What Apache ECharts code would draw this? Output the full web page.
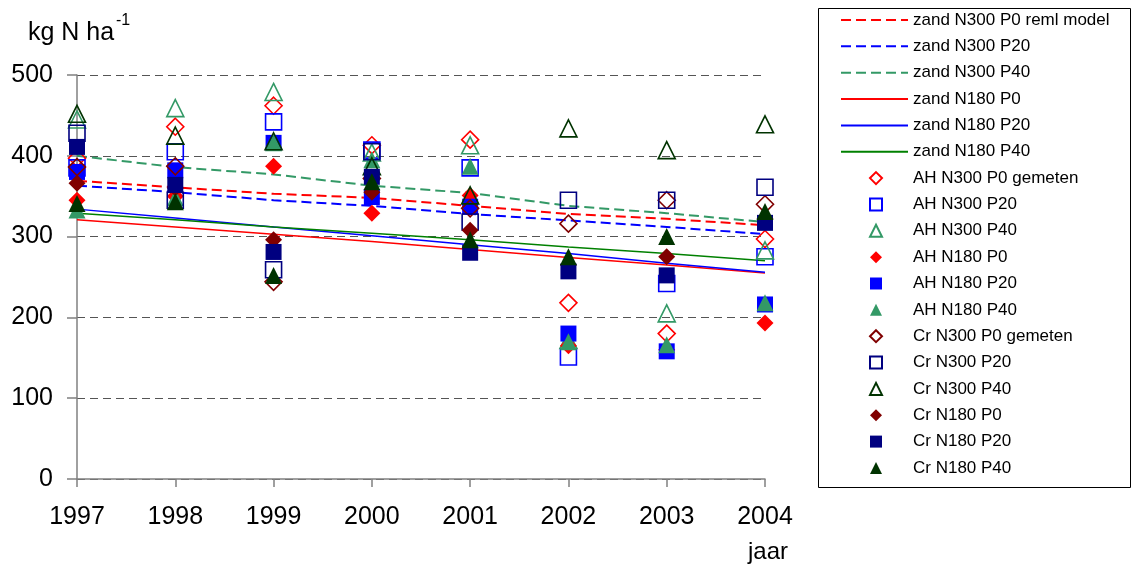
<!DOCTYPE html>
<html>
<head>
<meta charset="utf-8">
<script src="https://cdn.jsdelivr.net/npm/echarts@6/dist/echarts.min.js"></script>
<style>
  html, body { margin: 0; padding: 0; background: #fff; }
  #chart { width: 1132px; height: 579px; }
</style>
</head>
<body>
<div id="chart"></div>
<script>
// jaren
const years = ['1997', '1998', '1999', '2000', '2001', '2002', '2003', '2004']

// reml model lijnen
const zandN300P0 = [369, 361, 353, 348, 338, 328, 322, 314]
const zandN300P20 = [363, 355, 345, 338, 328, 320, 312, 303]
const zandN300P40 = [400, 386, 377, 363, 354, 338, 329, 318]
const zandN180P0 = [321, 312, 303, 294, 284, 274, 265, 255]
const zandN180P20 = [334, 323, 312, 301, 290, 279, 267, 256]
const zandN180P40 = [329, 321, 312, 304, 296, 287, 279, 270]

// gemeten AH
const ahN300P0 = [397, 436, 462, 413, 420, 218, 180, 297]
const ahN300P20 = [385, 405, 442, 407, 385, 151, 242, 275]
const ahN300P40 = [445, 459, 479, 404, 413, 172, 205, 283]
const ahN180P0 = [345, 350, 387, 329, 351, 165, 160, 193]
const ahN180P20 = [380, 382, 416, 349, 337, 180, 158, 216]
const ahN180P40 = [333, 348, 416, 395, 387, 170, 166, 218]

// gemeten Cr
const crN300P0 = [386, 387, 244, 372, 335, 316, 345, 340]
const crN300P20 = [428, 345, 259, 405, 318, 345, 345, 361]
const crN300P40 = [452, 425, 418, 387, 351, 434, 407, 439]
const crN180P0 = [366, 360, 296, 355, 308, 265, 275, 322]
const crN180P20 = [411, 364, 281, 374, 280, 257, 252, 317]
const crN180P40 = [341, 343, 252, 368, 296, 275, 300, 331]

const yTicks = [0, 100, 200, 300, 400, 500]

const FONT = '"Liberation Sans", Arial, sans-serif'
const ROW = 26.35 // afstand tussen legenda regels

function lineSerie (name, data, color, dashed) {
  return {
    name: name, type: 'line', data: data, symbol: 'none', z: 2,
    lineStyle: { color: color, width: dashed ? 2 : 1.5, type: dashed ? [10, 5] : 'solid' },
    itemStyle: { color: color }
  }
}

function markSerie (name, data, shape, color, open) {
  let size = shape === 'rect' ? 16 : 17
  return {
    name: name, type: 'scatter', data: data, symbol: shape, symbolSize: size, z: 3,
    itemStyle: open
      ? { color: 'rgba(255,255,255,0)', borderColor: color, borderWidth: 1.6, opacity: 1 }
      : { color: color, borderWidth: 0, opacity: 1 }
  }
}

const series = [
  lineSerie('zand N300 P0 reml model', zandN300P0, '#ff0000', true),
  lineSerie('zand N300 P20', zandN300P20, '#0000ff', true),
  lineSerie('zand N300 P40', zandN300P40, '#339966', true),
  lineSerie('zand N180 P0', zandN180P0, '#ff0000', false),
  lineSerie('zand N180 P20', zandN180P20, '#0000ff', false),
  lineSerie('zand N180 P40', zandN180P40, '#008000', false),
  markSerie('AH N300 P0 gemeten', ahN300P0, 'diamond', '#ff0000', true),
  markSerie('AH N300 P20', ahN300P20, 'rect', '#0000ff', true),
  markSerie('AH N300 P40', ahN300P40, 'triangle', '#339966', true),
  markSerie('AH N180 P0', ahN180P0, 'diamond', '#ff0000', false),
  markSerie('AH N180 P20', ahN180P20, 'rect', '#0000ff', false),
  markSerie('AH N180 P40', ahN180P40, 'triangle', '#339966', false),
  markSerie('Cr N300 P0 gemeten', crN300P0, 'diamond', '#800000', true),
  markSerie('Cr N300 P20', crN300P20, 'rect', '#000080', true),
  markSerie('Cr N300 P40', crN300P40, 'triangle', '#003300', true),
  markSerie('Cr N180 P0', crN180P0, 'diamond', '#800000', false),
  markSerie('Cr N180 P20', crN180P20, 'rect', '#000080', false),
  markSerie('Cr N180 P40', crN180P40, 'triangle', '#003300', false)
]

const lineNames = series.filter(s => s.type === 'line')
const markNames = series.filter(s => s.type === 'scatter')
const legendText = { color: '#000', fontSize: 17, lineHeight: 18, fontFamily: FONT }

let chart = echarts.init(document.getElementById('chart'))
chart.setOption({
  animation: false,
  backgroundColor: '#fff',
  textStyle: { fontFamily: FONT },
  grid: { left: 77, right: 367, top: 75, bottom: 100 },
  xAxis: {
    type: 'category', data: years, boundaryGap: false,
    axisLine: { lineStyle: { color: '#808080', width: 1.5 } },
    axisTick: { length: 8, lineStyle: { color: '#808080', width: 1.5 } },
    axisLabel: { color: '#000', fontSize: 25, margin: 26, fontFamily: FONT }
  },
  yAxis: {
    type: 'value', min: yTicks[0], max: yTicks[yTicks.length - 1], interval: 100,
    axisLine: { show: true, lineStyle: { color: '#808080', width: 1.5 } },
    axisTick: { show: true, length: 10, lineStyle: { color: '#808080', width: 1.5 } },
    axisLabel: { color: '#000', fontSize: 25, margin: 24, fontFamily: FONT },
    splitLine: { lineStyle: { color: '#555', width: 1, type: [8, 5] } }
  },
  legend: [
    {
      orient: 'vertical', left: 840, top: 11, padding: 0,
      itemWidth: 67, itemHeight: 11, itemGap: ROW - 18,
      textStyle: legendText,
      data: lineNames.map(s => ({ name: s.name, itemStyle: { opacity: 0 } }))
    },
    {
      orient: 'vertical', left: 869, top: 11 + 6 * ROW, padding: 0,
      itemWidth: 12, itemHeight: 12, itemGap: ROW - 18,
      textStyle: Object.assign({ padding: [0, 0, 0, 26] }, legendText),
      data: markNames.map(s => ({ name: s.name, icon: s.symbol }))
    }
  ],
  graphic: [
    { type: 'rect', left: 816, top: 6, shape: { width: 312, height: 479 },
      style: { fill: 'none', stroke: '#000', lineWidth: 1 }, silent: true },
    { type: 'text', left: 28, top: 21, style: { text: 'kg N ha', font: '25px ' + FONT, fill: '#000' } },
    { type: 'text', left: 116, top: 13, style: { text: '-1', font: '16px ' + FONT, fill: '#000' } },
    { type: 'text', left: 748, top: 540, style: { text: 'jaar', font: '24px ' + FONT, fill: '#000' } }
  ],
  series: series
})
</script>
</body>
</html>
